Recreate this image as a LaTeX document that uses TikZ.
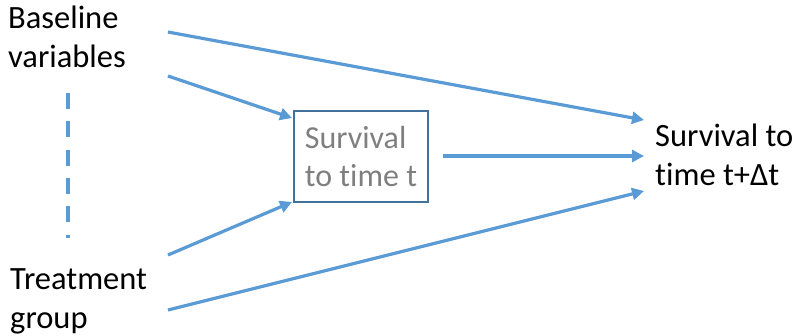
\documentclass[tikz,border=0pt]{standalone}
\usepackage{fontspec}
\setmainfont{Carlito}[Ligatures=NoCommon]
\usetikzlibrary{arrows.meta}
\definecolor{arrowblue}{RGB}{91,155,213}
\definecolor{boxblue}{RGB}{65,113,156}
\definecolor{boxgray}{RGB}{127,127,127}
\tikzset{
  lbl/.style={inner sep=0pt, align=left, font=\fontsize{32.5}{39}\selectfont},
  stepbox/.style={draw=boxblue, line width=1.2pt, minimum width=134pt, minimum height=91pt,
    inner sep=0pt, align=left, text=boxgray, font=\fontsize{32}{38}\selectfont},
  arr/.style={draw=arrowblue, line width=3.2pt, -{Triangle[length=12pt,width=12pt]}},
  dashline/.style={draw=arrowblue, line width=3.2pt, dash pattern=on 16pt off 12.3pt}
}
\begin{document}
\begin{tikzpicture}[x=1pt,y=-1pt]
\useasboundingbox (0,0) rectangle (798,335);

% text blocks (base anchor = baseline of the last line)
\node[lbl, anchor=base west] (baseline) at (8,67) {Baseline\\variables};
\node[lbl, anchor=base west] (treatment) at (10,328) {Treatment\\group};
\node[stepbox] (survt) at (361,156.5) {Survival\\to time t};
\node[lbl, anchor=base west] (survdt) at (655,185) {Survival to\\time t+Δt};

% arrow end points beside the text blocks
\coordinate (b1) at (168,32);
\coordinate (b2) at (168,76);
\coordinate (t1) at (168,255);
\coordinate (t2) at (168,310);
\coordinate (s1) at (443,156);
\coordinate (in1) at (292,118);
\coordinate (in2) at (292,202);
\coordinate (o1) at (644,120);
\coordinate (o2) at (644,156);
\coordinate (o3) at (644,191);
\coordinate (d1) at (68,93);
\coordinate (d2) at (68,238);

% connectors
\draw[arr] (b1) -- (o1);
\draw[arr] (b2) -- (in1);
\draw[arr] (s1) -- (o2);
\draw[arr] (t1) -- (in2);
\draw[arr] (t2) -- (o3);
\draw[dashline] (d1) -- (d2);
\end{tikzpicture}
\end{document}
